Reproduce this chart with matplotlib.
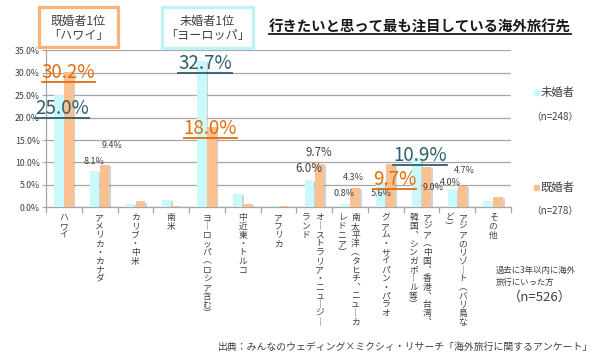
import numpy as np
import matplotlib
matplotlib.use("Agg")
import matplotlib.pyplot as plt
import matplotlib.transforms as mtransforms
import matplotlib.patheffects as pe
from matplotlib.patches import Rectangle
from matplotlib.lines import Line2D

plt.rcParams['font.family'] = ['Noto Sans CJK JP', 'DejaVu Sans']

# data (percent)
categories = ['ハワイ', 'アメリカ・カナダ', 'カリブ・中米', '南米', 'ヨーロッパ(ロシア含む)',
              '中近東・トルコ', 'アフリカ', 'オーストラリア・ニュージー\nランド',
              '南太平洋(タヒチ、ニューカ\nレドニア)', 'グアム・サイパン・パラオ',
              'アジア(中国、香港、台湾、\n韓国、シンガポール等)', 'アジアのリゾート(バリ島な\nど)', 'その他']
unmarried = [25.0, 8.1, 0.8, 1.7, 32.7, 2.9, 0.4, 6.0, 0.8, 5.6, 10.9, 4.0, 1.4]
married = [30.2, 9.4, 1.3, 0.3, 18.0, 0.8, 0.4, 9.7, 4.3, 9.7, 9.0, 4.7, 2.3]
yticks = [0, 5, 10, 15, 20, 25, 30, 35]

C_UN = '#C9F9FB'
C_MA = '#FAC08F'
T_TEAL = '#2F5E6E'
T_ORANGE = '#E46C0A'
T_GRAY = '#404040'

W, H = 600, 360
fig = plt.figure(figsize=(6, 3.6), dpi=100)
ax = fig.add_axes([46 / W, 1 - 207.3 / H, 465 / W, 157 / H])

x = np.arange(len(categories))
bw = 0.26
shadow = [pe.SimplePatchShadow(offset=(1.3, -0.8), shadow_rgbFace='#808080', alpha=0.35), pe.Normal()]
b1 = ax.bar(x - 0.14, unmarried, bw, color=C_UN, zorder=3)
b2 = ax.bar(x + 0.14, married, bw, color=C_MA, zorder=3)
for b in list(b1) + list(b2):
    b.set_path_effects(shadow)

ax.set_xlim(-0.5, len(categories) - 0.5)
ax.set_ylim(0, 35)
ax.set_yticks(yticks)
ax.set_yticklabels(['%.1f%%' % v for v in yticks], fontsize=6.3, color=T_GRAY)
ax.yaxis.grid(True, color='#A6A6A6', lw=0.9, zorder=0)
ax.set_axisbelow(True)
for s in ['top', 'right']:
    ax.spines[s].set_visible(False)
for s in ['left', 'bottom']:
    ax.spines[s].set_color('#A6A6A6')
    ax.spines[s].set_linewidth(0.9)
ax.tick_params(axis='y', length=3, color='#A6A6A6', pad=1.5)
ax.set_xticks(x)
ax.set_xticklabels([])
ax.tick_params(axis='x', which='major', length=0)
ax.set_xticks(np.arange(-0.5, len(categories)), minor=True)
ax.tick_params(axis='x', which='minor', length=4, color='#A6A6A6', width=0.9)

# vertical (tategaki) category labels
VMAP = {'ー': '｜', '(': '︵', ')': '︶', '、': '︑'}
base = mtransforms.blended_transform_factory(ax.transData, ax.transAxes)
step, start = 8.7, 10.5
for i, lab in enumerate(categories):
    cols = lab.split('\n')
    offs = [0] if len(cols) == 1 else [5.5, -8]
    for col, dx in zip(cols, offs):
        for k, ch in enumerate(col):
            t = base + mtransforms.ScaledTranslation(dx / 100, -(start + k * step) / 100, fig.dpi_scale_trans)
            ax.text(i, 0, VMAP.get(ch, ch), transform=t, ha='center', va='center',
                    fontsize=6.3, color=T_GRAY)

# value labels: (index, series, x, y, style)
label_spec = [
    (0, 'm', 0.134, 30.6, 'big_o'), (0, 'u', -0.05, 22.5, 'big_t'),
    (4, 'u', 3.955, 32.7, 'big_t'), (4, 'm', 4.095, 18.1, 'big_o'),
    (10, 'u', 9.955, 12.2, 'big_t'), (9, 'm', 9.25, 6.75, 'big_o'),
    (7, 'm', 7.13, 12.5, 'mid'), (7, 'u', 6.85, 9.05, 'mid'),
    (1, 'u', 0.84, 10.5, 'small'), (1, 'm', 1.335, 13.9, 'small'),
    (8, 'm', 8.1, 6.8, 'small'), (8, 'u', 7.82, 3.3, 'small'),
    (9, 'u', 8.87, 3.3, 'small'), (10, 'm', 10.31, 4.6, 'small'),
    (11, 'u', 10.81, 5.7, 'small'), (11, 'm', 11.2, 8.5, 'small'),
]
underlined = []
for idx, ser, lx, ly, style in label_spec:
    v = unmarried[idx] if ser == 'u' else married[idx]
    s = '%.1f%%' % v
    if style == 'big_o':
        t = ax.text(lx, ly, s, fontsize=13.5, color=T_ORANGE, ha='center', va='center_baseline', zorder=5)
        underlined.append((t, T_ORANGE))
    elif style == 'big_t':
        t = ax.text(lx, ly, s, fontsize=13.5, color=T_TEAL, ha='center', va='center_baseline', zorder=5)
        underlined.append((t, T_TEAL))
    elif style == 'mid':
        ax.text(lx, ly, s, fontsize=8.3, color=T_GRAY, ha='center', va='center_baseline', zorder=5)
    else:
        ax.text(lx, ly, s, fontsize=6.5, color=T_GRAY, ha='center', va='center_baseline', zorder=5)


def ft(xp, yp, s, **kw):
    return fig.text(xp / W, 1 - yp / H, s, **kw)


def box(x0, y0, x1, y1, color):
    fig.patches.append(Rectangle((x0 / W, 1 - y1 / H), (x1 - x0) / W, (y1 - y0) / H,
                                 transform=fig.transFigure, fill=False, ec=color, lw=2.3))


box(39, 7, 118, 47, '#F9B27A')
ft(78.5, 21, '既婚者1位', fontsize=8.7, color=T_GRAY, ha='center', va='center')
ft(78.5, 36, '「ハワイ」', fontsize=8.7, color=T_GRAY, ha='center', va='center')
box(162, 7, 253, 48, '#BDF3F7')
ft(207.5, 21, '未婚者1位', fontsize=8.7, color=T_GRAY, ha='center', va='center')
ft(207.5, 36, '「ヨーロッパ」', fontsize=8.7, color=T_GRAY, ha='center', va='center')

title = ft(420, 28, '行きたいと思って最も注目している海外旅行先', fontsize=10.4,
           fontweight='bold', color='#1A1A1A', ha='center', va='center')
underlined.append((title, '#1A1A1A'))

# legend
fig.patches.append(Rectangle((534 / W, 1 - 95 / H), 5 / W, 5 / H, transform=fig.transFigure, color=C_UN))
ft(541, 92, '未婚者', fontsize=8.2, color=T_GRAY, ha='left', va='center')
ft(555, 117, '（n=248）', fontsize=7, color=T_GRAY, ha='center', va='center')
fig.patches.append(Rectangle((534 / W, 1 - 190 / H), 5 / W, 5 / H, transform=fig.transFigure, color=C_MA))
ft(541, 187, '既婚者', fontsize=8.2, color=T_GRAY, ha='left', va='center')
ft(555, 211, '（n=278）', fontsize=7, color=T_GRAY, ha='center', va='center')

ft(496, 270, '過去に3年以内に海外', fontsize=6, color=T_GRAY, ha='left', va='center')
ft(496, 282, '旅行にいった方', fontsize=6, color=T_GRAY, ha='left', va='center')
ft(540, 297, '（n=526）', fontsize=9.5, color=T_GRAY, ha='center', va='center')

ft(593, 347, '出典：みんなのウェディング×ミクシィ・リサーチ「海外旅行に関するアンケート」',
   fontsize=7.1, color=T_GRAY, ha='right', va='center')

# underlines
fig.canvas.draw()
r = fig.canvas.get_renderer()
inv = fig.transFigure.inverted()
for t, c in underlined:
    bb = t.get_window_extent(r)
    (x0, y0), (x1, _) = inv.transform([(bb.x0, bb.y0 + 1), (bb.x1, bb.y1)])
    fig.add_artist(Line2D([x0, x1], [y0, y0], transform=fig.transFigure, color=c, lw=1.3))

fig.savefig('out.png', dpi=100)
